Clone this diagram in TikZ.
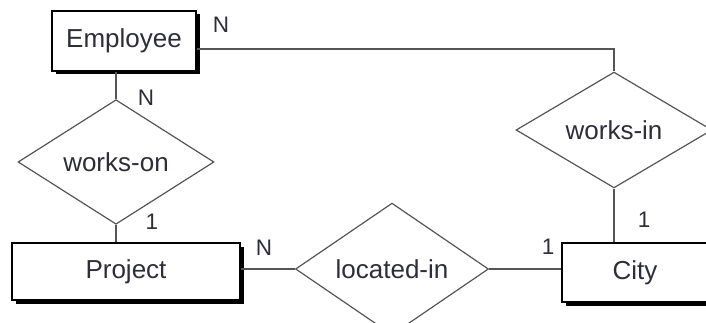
\documentclass[tikz,border=0pt]{standalone}
\usepackage{fontspec}
\setmainfont{Liberation Sans}
\usetikzlibrary{shapes.geometric,shadows}
\definecolor{txt}{HTML}{2E2E3A}
\definecolor{ln}{HTML}{555555}
\begin{document}
\begin{tikzpicture}[x=1pt,y=-1pt,
  entity/.style={draw=black,line width=1.4pt,fill=white,rectangle,inner sep=0pt,
    font=\fontsize{26}{28}\selectfont,text=txt,
    drop shadow={shadow xshift=3.5pt,shadow yshift=-3.5pt,fill=black,opacity=1}},
  rel/.style={draw=ln,line width=1.2pt,fill=white,diamond,inner sep=0pt,
    font=\fontsize{26}{28}\selectfont,text=txt},
  conn/.style={draw=ln,line width=1.8pt},
  card/.style={font=\fontsize{22.5}{24}\selectfont,text=txt,inner sep=0pt}]
\useasboundingbox (0,0) rectangle (706,323);
\clip (0,0) rectangle (706,323);
% entities
\node[entity,minimum width=144pt,minimum height=60pt] (emp) at (124,41) {Employee};
\node[entity,minimum width=228pt,minimum height=57pt] (proj) at (126,271.5) {Project};
\node[entity,minimum width=146pt,minimum height=59pt] (city) at (635,272.5) {City};
% relationships
\node[rel,minimum width=196pt,minimum height=110pt] (won) at (116,162) {works-on};
\node[rel,minimum width=196pt,minimum height=114pt] (win) at (614,130) {works-in};
\node[rel,minimum width=193pt,minimum height=118pt] (loc) at (392,269) {located-in};
% connectors
\draw[conn] (won.north) -- (won.north |- emp.south);
\draw[conn] (won.south) -- (won.south |- proj.north);
\draw[conn] ([yshift=-8pt]emp.east) -| (win.north);
\draw[conn] (win.south) -- (win.south |- city.north);
\draw[conn] (loc.west) -- (loc.west -| proj.east);
\draw[conn] (loc.east) -- (loc.east -| city.west);
% cardinalities
\node[card] (c1) at (221,25) {N};
\node[card] (c2) at (146,98) {N};
\node[card] (c3) at (152,222) {1};
\node[card] (c4) at (264,248) {N};
\node[card] (c5) at (548,247) {1};
\node[card] (c6) at (644,220) {1};
\end{tikzpicture}
\end{document}
